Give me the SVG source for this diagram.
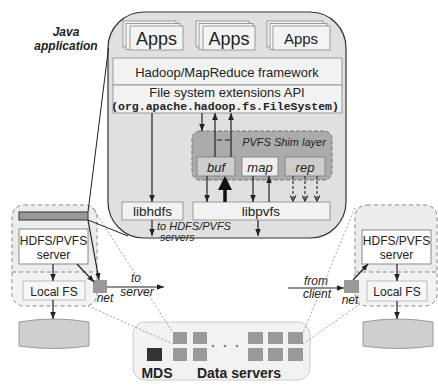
<svg xmlns="http://www.w3.org/2000/svg" width="438" height="385" viewBox="0 0 438 385">
<style>
.t{font-family:"Liberation Sans",Arial,sans-serif;fill:#222}
.i{font-style:italic}
.b{font-weight:bold}
.m{font-family:"Liberation Mono","Courier New",monospace;font-weight:bold;fill:#222}
.box{fill:#f2f2f2;stroke:#999;stroke-width:1}
.wbox{fill:#fff;stroke:#888;stroke-width:1}
.sheet{fill:#f4f4f4;stroke:#888;stroke-width:0.8}
.dash{fill:none;stroke:#888;stroke-width:1;stroke-dasharray:4 3}
.thin{fill:none;stroke:#777;stroke-width:0.7;stroke-dasharray:2 2}
.ln{fill:none;stroke:#222;stroke-width:1.2}
.dl{fill:none;stroke:#222;stroke-width:1.1;stroke-dasharray:3 2}
.sq{fill:#999}
</style>
<defs>
<marker id="a" viewBox="0 0 10 10" refX="10" refY="5" markerWidth="7" markerHeight="7" orient="auto" markerUnits="userSpaceOnUse"><path d="M0,1 L10,5 L0,9 z" fill="#222"/></marker>
<marker id="o" viewBox="0 0 10 10" refX="9" refY="5" markerWidth="7" markerHeight="7" orient="auto" markerUnits="userSpaceOnUse"><path d="M1,1 L9,5 L1,9" fill="none" stroke="#222" stroke-width="1.6"/></marker>
</defs>

<g id="java-app">
<rect x="108" y="12" width="238" height="226" rx="36" fill="#e0e0e0" stroke="#333" stroke-width="1.2"/>
<text class="t b i" x="66" y="36" font-size="12" text-anchor="middle">Java</text>
<text class="t b i" x="66" y="50" font-size="12" text-anchor="middle">application</text>
</g>

<g id="apps1">
<rect class="sheet" x="123" y="21" width="53" height="26"/>
<rect class="sheet" x="126" y="23.5" width="54" height="26"/>
<rect class="sheet" x="130" y="26" width="53" height="24"/>
<text class="t" x="156.5" y="45" font-size="18" text-anchor="middle">Apps</text>
</g>
<g id="apps2">
<rect class="sheet" x="196" y="21" width="53" height="26"/>
<rect class="sheet" x="199" y="23.5" width="54" height="26"/>
<rect class="sheet" x="203" y="26" width="52" height="24"/>
<text class="t" x="229" y="45" font-size="18" text-anchor="middle">Apps</text>
</g>
<g id="apps3">
<rect class="sheet" x="267" y="21" width="56" height="26"/>
<rect class="sheet" x="270" y="23.5" width="57" height="26"/>
<rect class="sheet" x="273" y="26" width="57" height="24"/>
<text class="t" x="301" y="43.5" font-size="15" text-anchor="middle">Apps</text>
</g>

<g id="hadoop">
<rect class="box" x="113" y="58" width="229" height="27"/>
<text class="t" x="227" y="77" font-size="13" text-anchor="middle">Hadoop/MapReduce framework</text>
</g>
<g id="fsapi">
<rect class="box" x="113" y="85" width="229" height="28"/>
<text class="t" x="227" y="97" font-size="13" text-anchor="middle">File system extensions API</text>
<text class="m" x="225" y="109.5" font-size="11.5" text-anchor="middle">(org.apache.hadoop.fs.FileSystem)</text>
</g>

<g id="shim">
<rect x="192" y="131" width="140" height="49" rx="8" fill="#ababab" stroke="#777" stroke-width="1" stroke-dasharray="4 2"/>
<text class="t i" x="284" y="146" font-size="11" text-anchor="middle">PVFS Shim layer</text>
</g>
<g id="buf">
<rect x="197" y="157" width="38" height="19" fill="#cdcdcd" stroke="#888" stroke-width="1"/>
<text class="t i" x="216" y="171.5" font-size="13" text-anchor="middle">buf</text>
</g>
<g id="map">
<rect x="242" y="157" width="36" height="19" fill="#eeeeee" stroke="#888" stroke-width="1"/>
<text class="t i" x="260" y="171.5" font-size="13" text-anchor="middle">map</text>
</g>
<g id="rep">
<rect x="285" y="157" width="40" height="19" fill="#cdcdcd" stroke="#888" stroke-width="1"/>
<text class="t i" x="305" y="171.5" font-size="13" text-anchor="middle">rep</text>
</g>

<g id="libhdfs">
<rect class="box" x="122" y="202" width="61" height="18"/>
<text class="t" x="152.5" y="216" font-size="13.5" text-anchor="middle">libhdfs</text>
</g>
<g id="libpvfs">
<rect class="box" x="193" y="202" width="137" height="18"/>
<text class="t" x="261" y="216" font-size="13.5" text-anchor="middle">libpvfs</text>
</g>
<text class="t i" x="157" y="230" font-size="11">to HDFS/PVFS</text>
<text class="t i" x="160" y="240.5" font-size="10.5">servers</text>

<g id="left-node">
<rect x="12" y="205" width="85" height="101" rx="12" fill="#f3f3f3"/>
<path d="M12,272 H97 V218 Q97,205 84,205 H24 Q12,205 12,217 Z" fill="#ececec"/>
<rect class="dash" x="12" y="205" width="85" height="101" rx="12"/>
<line class="dash" x1="12" y1="272" x2="97" y2="272"/>
<rect x="19" y="212" width="69" height="8" fill="#999" stroke="#333" stroke-width="1"/>
<rect class="wbox" x="19" y="229" width="69" height="35"/>
<text class="t" x="53.5" y="245" font-size="12" text-anchor="middle">HDFS/PVFS</text>
<text class="t" x="53.5" y="259" font-size="12" text-anchor="middle">server</text>
<rect x="23" y="281" width="62" height="19" fill="#f7f7f7" stroke="#bbb" stroke-width="1"/>
<text class="t" x="54" y="295.5" font-size="12" text-anchor="middle">Local FS</text>
<path d="M19,322 Q54,316 89,322 V346 Q54,351 19,346 Z" fill="#cfcfcf" stroke="#999" stroke-width="1"/>
<rect x="93" y="280" width="14" height="13" fill="#999"/>
<text class="t i" x="105" y="302" font-size="12" text-anchor="middle">net</text>
</g>

<g id="right-node">
<rect x="355" y="205" width="82" height="101" rx="12" fill="#f3f3f3"/>
<path d="M355,272 H437 V218 Q437,205 424,205 H367 Q355,205 355,217 Z" fill="#ececec"/>
<rect class="dash" x="355" y="205" width="82" height="101" rx="12"/>
<line class="dash" x1="355" y1="272" x2="437" y2="272"/>
<rect class="wbox" x="362" y="230" width="69" height="34"/>
<text class="t" x="396.5" y="245" font-size="12" text-anchor="middle">HDFS/PVFS</text>
<text class="t" x="396.5" y="259" font-size="12" text-anchor="middle">server</text>
<rect x="367" y="281" width="60" height="20" fill="#f7f7f7" stroke="#bbb" stroke-width="1"/>
<text class="t" x="397" y="296" font-size="12" text-anchor="middle">Local FS</text>
<path d="M363,322 Q398,316 433,322 V346 Q398,351 363,346 Z" fill="#cfcfcf" stroke="#999" stroke-width="1"/>
<rect x="344" y="280" width="15" height="13" fill="#999"/>
<text class="t i" x="350" y="304" font-size="12" text-anchor="middle">net</text>
</g>

<g id="servers">
<rect x="133" y="322" width="177" height="58" rx="12" fill="#f2f2f2" stroke="#ccc" stroke-width="1"/>
<rect x="147" y="348" width="15" height="13" fill="#333"/>
<rect class="sq" x="173" y="332" width="14" height="12"/>
<rect class="sq" x="193" y="332" width="14" height="12"/>
<rect class="sq" x="248" y="332" width="15" height="12"/>
<rect class="sq" x="268" y="332" width="15" height="12"/>
<rect class="sq" x="288" y="332" width="15" height="12"/>
<rect class="sq" x="173" y="348" width="14" height="13"/>
<rect class="sq" x="193" y="348" width="14" height="13"/>
<rect class="sq" x="248" y="348" width="15" height="13"/>
<rect class="sq" x="268" y="348" width="15" height="13"/>
<rect class="sq" x="288" y="348" width="15" height="13"/>
<circle cx="213" cy="346" r="1.3" fill="#888"/>
<circle cx="225" cy="346" r="1.3" fill="#888"/>
<circle cx="237" cy="346" r="1.3" fill="#888"/>
<text class="t b" x="157" y="378" font-size="14" text-anchor="middle">MDS</text>
<text class="t b" x="239" y="378" font-size="14" text-anchor="middle">Data servers</text>
</g>

<g id="connectors">
<line class="ln" x1="202" y1="113" x2="202" y2="131" marker-end="url(#a)"/>
<line class="ln" x1="215" y1="157" x2="215" y2="113" marker-end="url(#a)"/>
<line class="ln" x1="231" y1="157" x2="231" y2="113" marker-end="url(#a)"/>
<line x1="217" y1="140" x2="231" y2="140" stroke="#222" stroke-width="1.2" stroke-dasharray="5 3"/>
<line class="ln" x1="152" y1="113" x2="152" y2="202" marker-end="url(#a)"/>
<line class="ln" x1="207" y1="176" x2="207" y2="202" marker-end="url(#a)"/>
<line x1="225" y1="202" x2="225" y2="189" stroke="#111" stroke-width="3.5"/>
<polygon points="218,190 225,176 232,190" fill="#111"/>
<line class="ln" x1="253" y1="176" x2="253" y2="202" marker-end="url(#a)"/>
<line class="ln" x1="269" y1="202" x2="269" y2="176" marker-end="url(#a)"/>
<line class="dl" x1="293" y1="176" x2="293" y2="201" marker-end="url(#o)"/>
<line class="dl" x1="305" y1="176" x2="305" y2="201" marker-end="url(#o)"/>
<line class="dl" x1="317" y1="176" x2="317" y2="201" marker-end="url(#o)"/>
<line class="ln" x1="152" y1="220" x2="152" y2="236" marker-end="url(#a)"/>
<line class="ln" x1="258" y1="220" x2="258" y2="236" marker-end="url(#a)"/>
<path d="M108.5,48 L88,212" fill="none" stroke="#222" stroke-width="1"/>
<path d="M88,220 L128,236" fill="none" stroke="#222" stroke-width="1"/>
<line class="ln" x1="88" y1="220" x2="99" y2="280" marker-end="url(#a)"/>
<line class="ln" x1="53" y1="264" x2="53" y2="281" marker-end="url(#a)"/>
<line class="ln" x1="53" y1="300" x2="53" y2="319" marker-end="url(#a)"/>
<line class="ln" x1="77" y1="264" x2="94" y2="282" marker-end="url(#a)"/>
<line class="ln" x1="107" y1="287" x2="164" y2="287" marker-end="url(#a)"/>
<text class="t i" x="136" y="282" font-size="12" text-anchor="middle">to</text>
<text class="t i" x="137" y="296" font-size="12" text-anchor="middle">server</text>
<line class="ln" x1="288" y1="288" x2="344" y2="288" marker-end="url(#a)"/>
<text class="t i" x="316" y="285" font-size="12" text-anchor="middle">from</text>
<text class="t i" x="317" y="298" font-size="12" text-anchor="middle">client</text>
<line class="ln" x1="353" y1="280" x2="368" y2="264" marker-end="url(#a)"/>
<line class="ln" x1="397" y1="264" x2="397" y2="281" marker-end="url(#a)"/>
<line class="ln" x1="397" y1="301" x2="397" y2="319" marker-end="url(#a)"/>
<line class="thin" x1="93" y1="208" x2="173" y2="333"/>
<line class="thin" x1="88" y1="306" x2="173" y2="344"/>
<line class="thin" x1="355" y1="208" x2="303" y2="333"/>
<line class="thin" x1="360" y1="304" x2="303" y2="344"/>
</g>
</svg>
